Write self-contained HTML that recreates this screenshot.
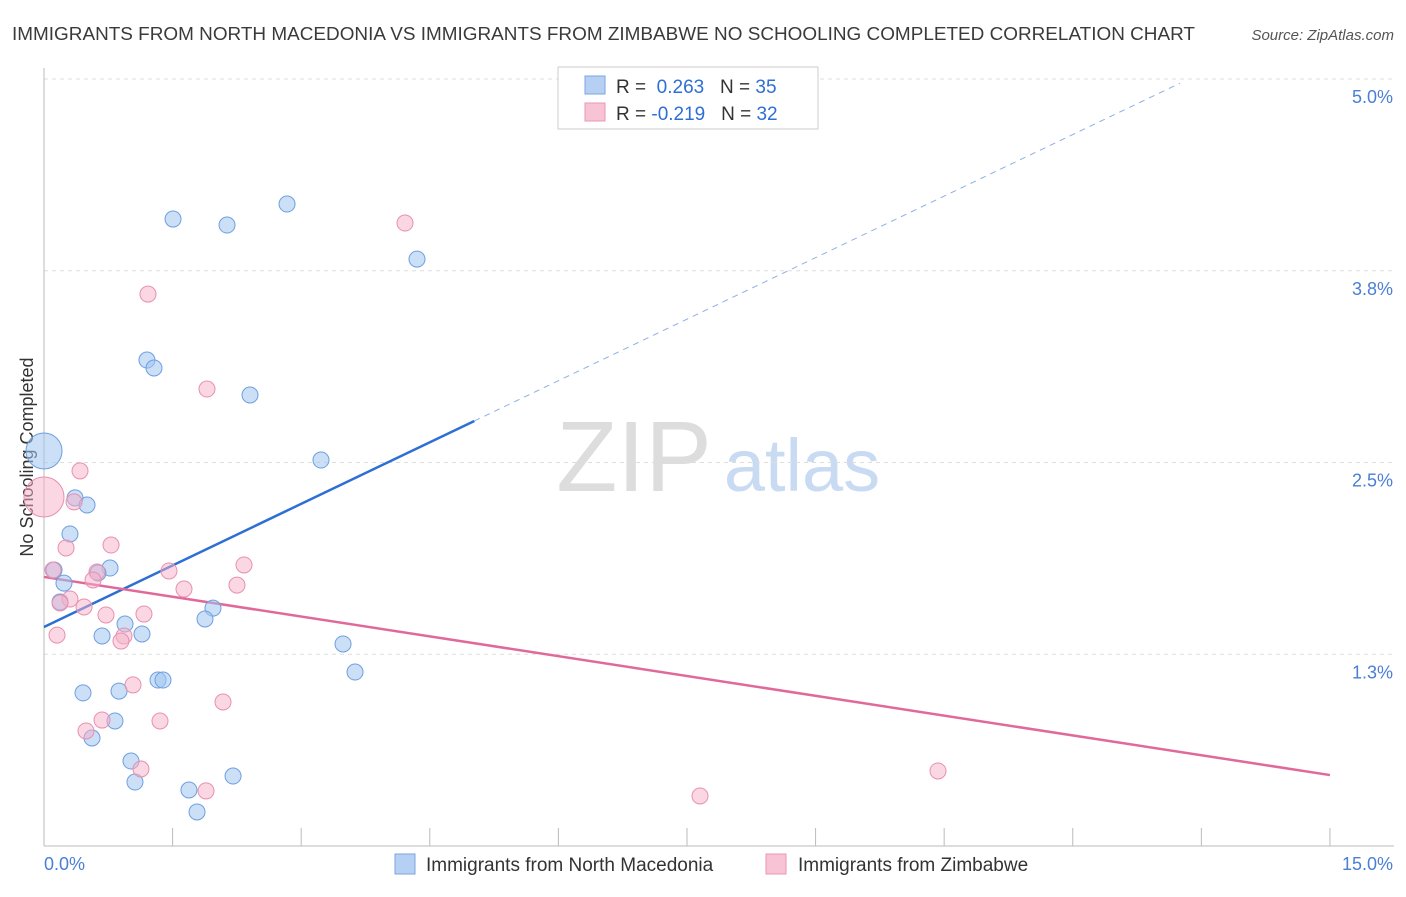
<!DOCTYPE html>
<html><head><meta charset="utf-8"><style>
body{margin:0;background:#fff;font-family:"Liberation Sans",sans-serif;}
svg text{font-family:"Liberation Sans",sans-serif;}
</style></head><body>
<svg id="chart" width="1406" height="892" xmlns="http://www.w3.org/2000/svg">
<text x="12" y="40" font-size="18" fill="#3a3a3a" textLength="1183" lengthAdjust="spacingAndGlyphs">IMMIGRANTS FROM NORTH MACEDONIA VS IMMIGRANTS FROM ZIMBABWE NO SCHOOLING COMPLETED CORRELATION CHART</text>
<text x="1394" y="40" font-size="15" fill="#555" text-anchor="end" font-style="italic">Source: ZipAtlas.com</text>
<text transform="translate(33,457) rotate(-90)" font-size="18" fill="#333" text-anchor="middle">No Schooling Completed</text>
<g>
<text x="634" y="491" font-size="100" fill="#ddd" text-anchor="middle" font-family="Liberation Serif">ZIP</text>
<text x="802" y="491" font-size="74" fill="#c9dbf2" text-anchor="middle">atlas</text>
</g>
<g id="grid"></g><g id="axes"></g><g id="lines"></g><g id="points"></g>
<g>
<rect x="558" y="67" width="260" height="62" fill="#fff" stroke="#ccc"/>
<rect x="585" y="76" width="20" height="18" fill="#b6d0f4" stroke="#7aa6e0"/>
<rect x="585" y="103" width="20" height="18" fill="#f8c3d4" stroke="#eb97b5"/>
<text x="616" y="93" font-size="19" fill="#333">R = <tspan fill="#2d6fd4">&#160;0.263</tspan>&#160;&#160;&#160;N = <tspan fill="#2d6fd4">35</tspan></text>
<text x="616" y="120" font-size="19" fill="#333">R = <tspan fill="#2d6fd4">-0.219</tspan>&#160;&#160;&#160;N = <tspan fill="#2d6fd4">32</tspan></text>
</g>
<g>
<rect x="395" y="854" width="20" height="20" fill="#b6d0f4" stroke="#7aa6e0"/>
<text x="426" y="871" font-size="19" fill="#333">Immigrants from North Macedonia</text>
<rect x="766" y="854" width="20" height="20" fill="#f8c3d4" stroke="#eb97b5"/>
<text x="798" y="871" font-size="19" fill="#333">Immigrants from Zimbabwe</text>
</g>
</svg>
<script>
const yTicks=[5.0,3.75,2.5,1.25];
const yTickLabels=["5.0%","3.8%","2.5%","1.3%"];
const xTicks=[0,1.5,3,4.5,6,7.5,9,10.5,12,13.5,15];
const blueX=[0,1.505,2.135,2.835,4.351,1.201,1.283,2.403,3.231,0.362,0.502,0.303,0.117,0.770,0.630,0.233,0.187,1.971,1.878,0.945,0.677,1.143,3.488,3.628,1.330,1.388,0.455,0.875,0.828,0.560,1.015,1.061,1.691,2.205,1.785];
const blueY=[2.575,4.087,4.048,4.185,3.826,3.168,3.116,2.940,2.516,2.269,2.223,2.034,1.799,1.812,1.780,1.714,1.591,1.551,1.480,1.447,1.369,1.382,1.317,1.134,1.082,1.082,0.998,1.010,0.815,0.704,0.554,0.417,0.365,0.456,0.222];
const pinkX=[0,0.420,0.350,4.211,1.213,1.901,0.257,0.782,0.105,0.618,0.572,1.458,2.333,1.633,2.251,0.303,0.467,0.723,1.166,0.933,0.898,0.152,1.038,2.088,0.677,1.353,0.490,1.131,1.890,7.652,10.428,0.187];
const pinkY=[2.275,2.445,2.243,4.061,3.598,2.979,1.943,1.962,1.799,1.786,1.734,1.793,1.832,1.675,1.701,1.610,1.558,1.506,1.512,1.369,1.336,1.375,1.050,0.939,0.821,0.815,0.750,0.502,0.359,0.326,0.489,1.584];
const blueLine=[1.428,0.2675];
const pinkLine=[1.754,-0.0861];
const NS="http://www.w3.org/2000/svg";
const X=v=>44+v*85.73, Y=v=>846-v*153.4;
function mk(tag,attrs,parent){const e=document.createElementNS(NS,tag);for(const k in attrs)e.setAttribute(k,attrs[k]);parent.appendChild(e);return e;}
const grid=document.getElementById('grid'),axes=document.getElementById('axes'),lines=document.getElementById('lines'),pts=document.getElementById('points');
yTicks.forEach((t,i)=>{
 const l=mk('line',{x1:44,x2:1394,y1:Y(t),y2:Y(t),stroke:'#ddd','stroke-dasharray':'4,4'},grid);
 
 
 const tx=mk('text',{x:1393,y:Y(t)+24,'font-size':18,fill:'#4a7fd4','text-anchor':'end'},axes);
 tx.textContent=yTickLabels[i];
 
 
});
const ax=mk('line',{x1:44,x2:1394,y1:846,y2:846,stroke:'#bbb'},axes);


const ay=mk('line',{x1:44,x2:44,y1:68,y2:846,stroke:'#bbb'},axes);


xTicks.forEach(t=>{const l=mk('line',{x1:X(t),x2:X(t),y1:828,y2:846,stroke:'#bbb'},axes);
 
 });
const x0=mk('text',{x:44,y:870,'font-size':18,fill:'#4a7fd4'},axes);x0.textContent="0.0%";


const x1=mk('text',{x:1393,y:870,'font-size':18,fill:'#4a7fd4','text-anchor':'end'},axes);x1.textContent="15.0%";


function dot(x,y,r,fill,stroke,name){const c=mk('circle',{cx:X(x),cy:Y(y),r:r,fill:fill,stroke:stroke,'stroke-width':1},pts);
 
 }
blueX.forEach((x,i)=>dot(x,blueY[i],i===0?18:8,'rgba(160,196,240,0.55)','#6e9fe0','north-macedonia-point'));
pinkX.forEach((x,i)=>dot(x,pinkY[i],i===0?20:8,'rgba(245,175,200,0.5)','#e890b0','zimbabwe-point'));
const bEnd=5.02, bDash=13.25;
const bl=mk('line',{x1:X(0),y1:Y(blueLine[0]),x2:X(bEnd),y2:Y(blueLine[0]+blueLine[1]*bEnd),stroke:'#2d6fd4','stroke-width':2.5},lines);


const bd=mk('line',{x1:X(bEnd),y1:Y(blueLine[0]+blueLine[1]*bEnd),x2:X(bDash),y2:Y(blueLine[0]+blueLine[1]*bDash),stroke:'#8fb2e6','stroke-width':1,'stroke-dasharray':'6,5'},lines);


const pl=mk('line',{x1:X(0),y1:Y(pinkLine[0]),x2:X(15),y2:Y(pinkLine[0]+pinkLine[1]*15),stroke:'#e0699a','stroke-width':2.5},lines);


</script>
</body></html>
